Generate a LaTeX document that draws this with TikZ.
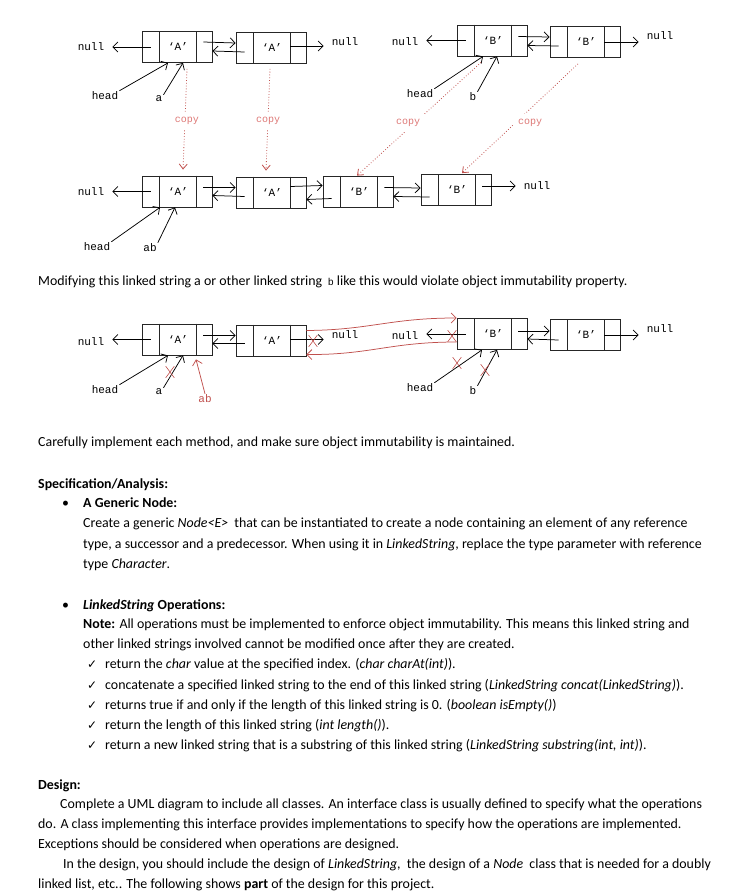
\documentclass[tikz,border=0pt]{standalone}
\usepackage{fontspec}
\setmainfont{Carlito}
\setmonofont{Liberation Mono}
\newfontfamily\symfont{DejaVu Sans}
\usetikzlibrary{arrows.meta,shapes.misc}
\definecolor{xred}{RGB}{192,80,77}
\definecolor{copyred}{RGB}{222,120,118}

% doubly linked node: name, x, y, element
\newcommand{\dlnode}[4]{%
  \node[cellbox] (#1) at (#2,#3) {};
  \draw[cellline] ([xshift=18pt]#1.north west) -- ([xshift=18pt]#1.south west);
  \draw[cellline] ([xshift=-16pt]#1.north east) -- ([xshift=-16pt]#1.south east);
  \node[elem] (#1-e) at ([xshift=1pt]#1.center) {#4};
  \coordinate (#1-p) at ([xshift=9pt]#1.west);
  \coordinate (#1-n) at ([xshift=-9pt]#1.east);
}

\begin{document}
\begin{tikzpicture}[x=1pt,y=-1pt,
    cellbox/.style={draw=black!85,line width=0.8pt,minimum width=70pt,
      minimum height=31pt,inner sep=0pt},
    cellline/.style={draw=black!85,line width=0.8pt},
    elem/.style={font=\ttfamily\fontsize{11}{12}\selectfont,inner sep=0pt},
    nul/.style={font=\ttfamily\fontsize{11}{12}\selectfont,inner xsep=8pt,inner ysep=1pt},
    lbl/.style={font=\ttfamily\fontsize{11}{12}\selectfont,inner sep=1pt},
    ptr/.style={-{Straight Barb[length=5pt,width=10pt]},line width=0.75pt},
    redptr/.style={ptr,draw=xred},
    copylbl/.style={font=\ttfamily\fontsize{10}{11}\selectfont,text=copyred,
      fill=white,inner sep=5pt},
    copyline/.style={draw=xred,dotted,line width=0.8pt,
      -{Straight Barb[length=5pt,width=8pt]}},
    xmark/.style={cross out,draw=xred,line width=0.6pt,minimum width=8pt,
      minimum height=11pt,inner sep=0pt},
    txt/.style={anchor=base west,inner sep=0pt,font=\fontsize{13.9}{15}\selectfont}]
  \useasboundingbox (0,0) rectangle (736,894);

  % string a
  \dlnode{a1}{177}{47}{‘A’}
  \dlnode{a2}{271}{48}{‘A’}
  \node[nul] (na0) at (91,47) {null};
  \node[nul] (na1) at (345,42) {null};
  \draw[ptr] (a1-p) -- (na0.east);
  \draw[ptr] ([yshift=5pt]a1-n) -- ([yshift=5pt]a2.west);
  \draw[ptr] ([yshift=-4pt]a2-p) -- ([yshift=-4pt]a1.east);
  \draw[ptr] ([xshift=-16pt,yshift=2pt]a2.east) -- ([yshift=2pt]a2.east -| na1.west);
  \node[lbl] (ha) at (105,96) {head};
  \node[lbl] (la) at (159,99) {a};
  \draw[ptr] (ha.north east) -- ([xshift=-9pt]a1.south);
  \draw[ptr] (la.north east) -- ([xshift=6pt]a1.south);

  % string b
  \dlnode{b1}{492}{40.5}{‘B’}
  \dlnode{b2}{585}{42}{‘B’}
  \node[nul] (nb0) at (405,42) {null};
  \node[nul] (nb1) at (660,36) {null};
  \draw[ptr] (b1-p) -- (b1-p -| nb0.east);
  \draw[ptr] ([yshift=4pt]b1-n) -- ([yshift=5pt]b2.west);
  \draw[ptr] ([yshift=-4pt]b2-p) -- ([yshift=-5pt]b1.east);
  \draw[ptr] ([xshift=-16pt]b2.east) -- (b2.east -| nb1.west);
  \node[lbl] (hb) at (420,94) {head};
  \node[lbl] (lb) at (473,97) {b};
  \draw[ptr] (hb.north east) -- ([xshift=-9pt]b1.south);
  \draw[ptr] (lb.north east) -- ([xshift=5pt]b1.south);

  % string ab
  \dlnode{c1}{177}{191.5}{‘A’}
  \dlnode{c2}{271}{192.5}{‘A’}
  \dlnode{c3}{358}{191.5}{‘B’}
  \dlnode{c4}{456}{190}{‘B’}
  \node[nul] (nc0) at (91,192) {null};
  \node[nul] (nc1) at (537,186) {null};
  \draw[ptr] (c1-p) -- (c1-p -| nc0.east);
  \draw[ptr] ([yshift=4pt]c1-n) -- ([yshift=5pt]c2.west);
  \draw[ptr] ([yshift=-4pt]c2-p) -- ([yshift=-4pt]c1.east);
  \draw[ptr] ([xshift=-16pt,yshift=6pt]c2.east) -- ([yshift=6pt]c3.west);
  \draw[ptr] ([yshift=-7pt]c3-p) -- ([yshift=-7pt]c2.east);
  \draw[ptr] ([yshift=4pt]c3-n) -- ([yshift=2pt]c4.west);
  \draw[ptr] ([yshift=-7pt]c4-p) -- ([yshift=-5pt]c3.east);
  \draw[ptr] ([yshift=4pt]c4-n) -- ([yshift=4pt]c4-n -| nc1.west);
  \node[lbl] (hc) at (97,247) {head};
  \node[lbl] (lc) at (150,248) {ab};
  \draw[ptr] (hc.north east) -- ([xshift=-17pt]c1.south);
  \draw[ptr] (lc.north east) -- ([xshift=-2pt]c1.south);

  % copies
  \draw[copyline] ([xshift=10pt,yshift=-6pt]a1.south) -- ([xshift=6pt,yshift=6pt]c1.north);
  \draw[copyline] ([xshift=-1pt,yshift=-5pt]a2.south) -- ([xshift=-5pt,yshift=6pt]c2.north);
  \draw[copyline] ([xshift=-11pt,yshift=-6pt]b1.south) -- ([xshift=-1pt]c3.north);
  \draw[copyline] ([xshift=-7pt,yshift=-6pt]b2.south) -- ([xshift=6pt,yshift=1pt]c4.north);
  \node[copylbl] (cpa1) at (187,121) {copy};
  \node[copylbl] (cpa2) at (268,121) {copy};
  \node[copylbl] (cpb1) at (408,123) {copy};
  \node[copylbl] (cpb2) at (530,123) {copy};

  \node[txt] (t0) at (38,285) {Modifying this linked string a or other linked string
    \,{\ttfamily\fontsize{10}{11}\selectfont b} like this would violate object immutability property.};

  % modified a and b
  \dlnode{d1}{177}{339.5}{‘A’}
  \dlnode{d2}{271}{340.5}{‘A’}
  \dlnode{d3}{492}{334}{‘B’}
  \dlnode{d4}{585}{335}{‘B’}
  \node[nul] (nd0) at (91,342) {null};
  \node[nul] (nd1) at (345,335) {null};
  \node[nul] (nd2) at (405,336) {null};
  \node[nul] (nd3) at (660,329) {null};
  \draw[ptr] (d1-p) -- (d1-p -| nd0.east);
  \draw[ptr] ([yshift=4pt]d1-n) -- ([yshift=5pt]d2.west);
  \draw[ptr] ([yshift=-3pt]d2-p) -- ([yshift=-4pt]d1.east);
  \draw[ptr] ([xshift=-16pt,yshift=1pt]d2.east) -- ([yshift=1pt]d2.east -| nd1.west);
  \draw[ptr] (d3-p) -- (d3-p -| nd2.east);
  \draw[ptr] ([yshift=3pt]d3-n) -- ([yshift=4pt]d4.west);
  \draw[ptr] ([yshift=-5pt]d4-p) -- ([yshift=-5pt]d3.east);
  \draw[ptr] ([xshift=-16pt]d4.east) -- (d4.east -| nd3.west);
  \node[lbl] (hd1) at (105,390) {head};
  \node[lbl] (ld1) at (159,392) {a};
  \node[lbl,text=xred] (ld2) at (205,399) {ab};
  \node[lbl] (hd3) at (420,388) {head};
  \node[lbl] (ld3) at (473,391) {b};
  \draw[ptr] (hd1.north east) -- ([xshift=-9pt]d1.south);
  \draw[ptr] (ld1.north east) -- ([xshift=6pt]d1.south);
  \draw[redptr] (ld2.north) -- ([xshift=19pt,yshift=-4pt]d1.south);
  \draw[ptr] (hd3.north east) -- ([xshift=-10pt]d3.south);
  \draw[ptr] (ld3.north east) -- ([xshift=5pt]d3.south);
  % new links between the two strings
  \draw[redptr] ([yshift=10pt]d2.east) .. controls (370,330) and (390,318)
    .. ([yshift=16pt]d3.west);
  \draw[redptr] ([yshift=-8pt]d3.west) .. controls (390,342) and (370,355)
    .. ([yshift=-14pt]d2.east);
  % crossed out links
  \node[xmark] (x1) at (313,341) {};
  \node[xmark] (x2) at (452,336) {};
  \node[xmark] (x3) at (170,372) {};
  \node[xmark] (x4) at (457,363) {};
  \node[xmark] (x5) at (485,370) {};

  % text
  \node[txt] (t1) at (38,446) {Carefully implement each method, and make sure object immutability is maintained.};
  \node[txt] (t2) at (38,488) {\textbf{Specification/Analysis:}};
  \node[txt] (u1) at (62,507) {•};
  \node[txt] (t3) at (83,507) {\textbf{A Generic Node:}};
  \node[txt] (t4) at (83,527) {Create a generic \textit{Node<E>}\ \ that can be instantiated to create a node containing an element of any reference};
  \node[txt] (t5) at (83,548) {type, a successor and a predecessor. When using it in \textit{LinkedString}, replace the type parameter with reference};
  \node[txt] (t6) at (83,568) {type \textit{Character}.};
  \node[txt] (u2) at (62,609) {•};
  \node[txt] (t7) at (83,609) {\textbf{\textit{LinkedString} Operations:}};
  \node[txt] (t8) at (83,628) {\textbf{Note:} All operations must be implemented to enforce object immutability. This means this linked string and};
  \node[txt] (t9) at (83,648) {other linked strings involved cannot be modified once after they are created.};
  \foreach \y/\s [count=\i] in {668/{return the \textit{char} value at the specified index. (\textit{char charAt(int)}).},
      689/{concatenate a specified linked string to the end of this linked string (\textit{LinkedString concat(LinkedString)}).},
      709/{returns true if and only if the length of this linked string is 0. (\textit{boolean isEmpty()})},
      729/{return the length of this linked string (\textit{int length()}).},
      749/{return a new linked string that is a substring of this linked string (\textit{LinkedString substring(int, int)}).}}{
    \node[txt,font=\symfont\fontsize{12}{13}\selectfont] (k\i) at (87,\y) {✓};
    \node[txt] (c\i) at (105,\y) {\s};
  }
  \node[txt] (t15) at (38,789) {\textbf{Design:}};
  \node[txt] (t16) at (60,808) {Complete a UML diagram to include all classes. An interface class is usually defined to specify what the operations};
  \node[txt] (t17) at (38,828) {do. A class implementing this interface provides implementations to specify how the operations are implemented.};
  \node[txt] (t18) at (38,848) {Exceptions should be considered when operations are designed.};
  \node[txt] (t19) at (63,868) {In the design, you should include the design of \textit{LinkedString},\ \ the design of a \textit{Node}\ \ class that is needed for a doubly};
  \node[txt] (t20) at (38,888) {linked list, etc.. The following shows \textbf{part} of the design for this project.};
\end{tikzpicture}
\end{document}
